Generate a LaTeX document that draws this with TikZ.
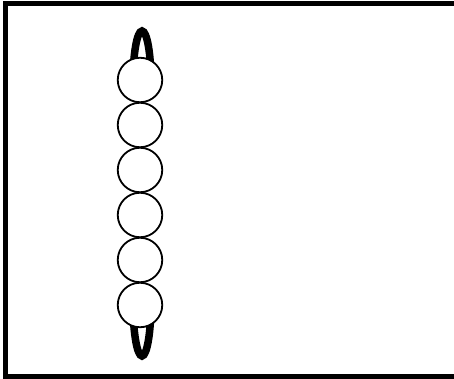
\documentclass[tikz,border=0pt]{standalone}
\begin{document}
\begin{tikzpicture}[x=1pt,y=-1pt,
  frame/.style={line width=5pt},
  loopline/.style={line width=7.5pt},
  bead/.style={circle,draw,fill=white,line width=1.8pt,minimum size=44.5pt,inner sep=0pt}]
\useasboundingbox (0,0) rectangle (454,379);
\draw[frame] (470,3.5) -- (5,3.5) -- (5,376) -- (470,376);
\coordinate (tl) at (133,82);
\coordinate (bl) at (133,303);
\draw[loopline] (tl) arc[start angle=180, end angle=0, x radius=9pt, y radius=51pt];
\draw[loopline] (bl) arc[start angle=180, end angle=360, x radius=9pt, y radius=53pt];
\foreach \i/\yy in {1/80,2/125,3/170,4/215,5/260,6/305}{
  \node[bead] (b\i) at (140,\yy) {};
}
\end{tikzpicture}
\end{document}
